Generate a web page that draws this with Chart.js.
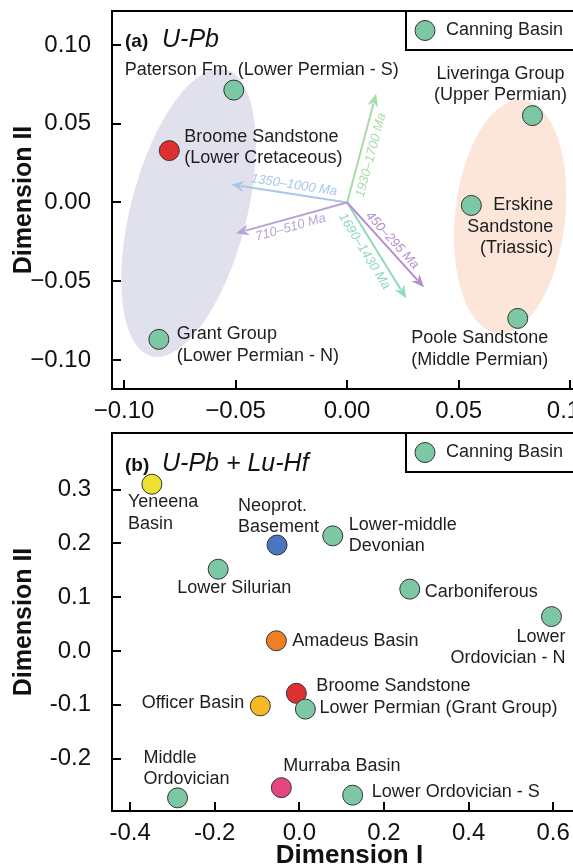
<!DOCTYPE html>
<html>
<head>
<meta charset="utf-8">
<script src="https://cdn.jsdelivr.net/npm/chart.js@4"></script>
<style>
  html, body { margin: 0; padding: 0; background: #fff; overflow: hidden; width: 573px; height: 867px; }
  .panel { position: absolute; left: 0; width: 620px; }
</style>
</head>
<body>
<div class="panel" style="top:0;height:430px"><canvas id="chartA"></canvas></div>
<div class="panel" style="top:420px;height:447px"><canvas id="chartB"></canvas></div>
<script>
const FONT = '"Liberation Sans", Arial, Helvetica, sans-serif';
const GREEN = '#7cc7a4';

// --- (a) U-Pb data ---
const UPB_DIM1 = [-0.0508, -0.0797, -0.0844, 0.0831, 0.0557, 0.0765];
const UPB_DIM2 = [0.0713, 0.0329, -0.0869, 0.0551, -0.0019, -0.0736];
const UPB_COLORS = [GREEN, '#df2f2f', GREEN, GREEN, GREEN, GREEN];
const UPB_LABELS = [
  ['Paterson Fm. (Lower Permian - S)'],
  ['Broome Sandstone', '(Lower Cretaceous)'],
  ['Grant Group', '(Lower Permian - N)'],
  ['Liveringa Group', '(Upper Permian)'],
  ['Erskine', 'Sandstone', '(Triassic)'],
  ['Poole Sandstone', '(Middle Permian)'],
];
const UPB_X_TICKS = [-0.10, -0.05, 0.00, 0.05, 0.10];
const UPB_Y_TICKS = [-0.10, -0.05, 0.00, 0.05, 0.10];

// age-component vectors (tips, from origin)
const ARROW_LABELS = ['1350–1000 Ma', '710–510 Ma', '1930–1700 Ma', '1690–1430 Ma', '450–295 Ma'];
const ARROW_DIM1 = [-0.0520, -0.0498, 0.0130, 0.0265, 0.0345];
const ARROW_DIM2 = [0.0114, -0.0196, 0.0690, -0.0608, -0.0538];
const ARROW_COLORS = ['#a8c7e9', '#b7a3d8', '#a7dca7', '#92d8bd', '#b28dcf'];

// grouping ellipses: centre and major-axis tip
const ELLIPSE_CX = [-0.0711, 0.0731];
const ELLIPSE_CY = [-0.0066, -0.0089];
const ELLIPSE_TIP_X = [-0.0545, 0.0788];
const ELLIPSE_TIP_Y = [0.0844, 0.0651];
const ELLIPSE_COLORS = ['#e1e1ee', '#fbe6d9'];

// --- (b) U-Pb + Lu-Hf data ---
const HF_DIM1 = [-0.3487, -0.0528, -0.192, 0.0789, 0.261, 0.596, -0.0544, -0.0923, -0.0071, 0.0142, -0.288, -0.0426, 0.126];
const HF_DIM2 = [0.310, 0.197, 0.152, 0.214, 0.115, 0.064, 0.019, -0.102, -0.0787, -0.108, -0.273, -0.254, -0.268];
const HF_COLORS = ['#ece22e', '#4a76bf', GREEN, GREEN, GREEN, GREEN, '#ef7f22', '#f6b824', '#df2f2f', GREEN, GREEN, '#e6467f', GREEN];
const HF_LABELS = [
  ['Yeneena', 'Basin'],
  ['Neoprot.', 'Basement'],
  ['Lower Silurian'],
  ['Lower-middle', 'Devonian'],
  ['Carboniferous'],
  ['Lower', 'Ordovician - N'],
  ['Amadeus Basin'],
  ['Officer Basin'],
  ['Broome Sandstone'],
  ['Lower Permian (Grant Group)'],
  ['Middle', 'Ordovician'],
  ['Murraba Basin'],
  ['Lower Ordovician - S'],
];
const HF_X_TICKS = [-0.4, -0.2, 0.0, 0.2, 0.4, 0.6];
const HF_Y_TICKS = [-0.2, -0.1, 0.0, 0.1, 0.2, 0.3];

// label placement relative to each marker (px)
const UPB_PLACE = [
  { dx: 28, dy: -20, align: 'center' },
  { dx: 15, dy: -14, align: 'left' },
  { dx: 18, dy: -5, align: 'left' },
  { dx: -32, dy: -42, align: 'center' },
  { dx: 82, dy: 0, align: 'right' },
  { dx: -38, dy: 20, align: 'center' },
];
const HF_PLACE = [
  { dx: -24, dy: 18, align: 'left' },
  { dx: -39, dy: -39, align: 'left' },
  { dx: 16, dy: 19, align: 'center' },
  { dx: 16, dy: -11, align: 'left' },
  { dx: 15, dy: 3, align: 'left' },
  { dx: 14, dy: 20, align: 'right' },
  { dx: 16, dy: 0, align: 'left' },
  { dx: -16, dy: -3, align: 'right' },
  { dx: 20, dy: -7, align: 'left' },
  { dx: 14, dy: -1, align: 'left' },
  { dx: -34, dy: -40, align: 'left' },
  { dx: 2, dy: -22, align: 'left' },
  { dx: 19, dy: -3, align: 'left' },
];
const ARROW_PLACE = [
  { t: 0.47, off: 9 }, { t: 0.53, off: -9 }, { t: 0.46, off: -11 },
  { t: 0.45, off: -11 }, { t: 0.51, off: 8 },
];

const decorPlugin = {
  id: 'decor',
  beforeDatasetsDraw(chart, args, opts) {
    const { ctx, scales: { x, y } } = chart;
    ctx.save();
    (opts.ellipses || []).forEach(e => {
      const cx = x.getPixelForValue(e.cx), cy = y.getPixelForValue(e.cy);
      const tx = x.getPixelForValue(e.tx), ty = y.getPixelForValue(e.ty);
      ctx.beginPath();
      ctx.ellipse(cx, cy, Math.hypot(tx - cx, ty - cy), e.halfWidth, Math.atan2(ty - cy, tx - cx), 0, Math.PI * 2);
      ctx.fillStyle = e.color;
      ctx.fill();
    });
    (opts.arrows || []).forEach(a => {
      const ox = x.getPixelForValue(0), oy = y.getPixelForValue(0);
      const tx = x.getPixelForValue(a.x), ty = y.getPixelForValue(a.y);
      const len = Math.hypot(tx - ox, ty - oy);
      const ux = (tx - ox) / len, uy = (ty - oy) / len;
      const head = 13, hw = 5.5;
      const bx = tx - ux * head, by = ty - uy * head;
      ctx.strokeStyle = a.color;
      ctx.fillStyle = a.color;
      ctx.lineWidth = 2;
      ctx.beginPath();
      ctx.moveTo(ox, oy);
      ctx.lineTo(bx + ux * 3, by + uy * 3);
      ctx.stroke();
      ctx.beginPath();
      ctx.moveTo(tx, ty);
      ctx.lineTo(bx - uy * hw, by + ux * hw);
      ctx.lineTo(bx + ux * 4, by + uy * 4);
      ctx.lineTo(bx + uy * hw, by - ux * hw);
      ctx.closePath();
      ctx.fill();
      // label along the vector
      let ang = Math.atan2(ty - oy, tx - ox);
      if (ang > Math.PI / 2) ang -= Math.PI;
      if (ang < -Math.PI / 2) ang += Math.PI;
      const px = ox + (tx - ox) * a.t + Math.sin(ang) * a.off;
      const py = oy + (ty - oy) * a.t - Math.cos(ang) * a.off;
      ctx.save();
      ctx.translate(px, py);
      ctx.rotate(ang);
      ctx.font = 'italic 13px ' + FONT;
      ctx.textAlign = 'center';
      ctx.textBaseline = 'middle';
      ctx.fillText(a.label, 0, 0);
      ctx.restore();
    });
    ctx.restore();
  },
  afterDatasetsDraw(chart, args, opts) {
    const { ctx, chartArea: ca, scales: { x, y } } = chart;
    const ds = chart.data.datasets[0];
    ctx.save();
    // point labels
    ctx.fillStyle = '#1e1e1e';
    ctx.font = '18px ' + FONT;
    ctx.textBaseline = 'middle';
    opts.labels.forEach((lines, i) => {
      const p = opts.place[i];
      const px = x.getPixelForValue(ds.data[i].x) + p.dx;
      const py = y.getPixelForValue(ds.data[i].y) + p.dy;
      ctx.textAlign = p.align;
      lines.forEach((ln, k) => ctx.fillText(ln, px, py + k * 21.5));
    });
    // frame
    ctx.strokeStyle = '#000';
    ctx.lineWidth = 2;
    ctx.strokeRect(ca.left, ca.top, ca.right - ca.left, ca.bottom - ca.top);
    // inward ticks
    ctx.beginPath();
    x.ticks.forEach(t => {
      const px = Math.round(x.getPixelForValue(t.value));
      ctx.moveTo(px, ca.bottom);
      ctx.lineTo(px, ca.bottom - 9);
    });
    y.ticks.forEach(t => {
      const py = Math.round(y.getPixelForValue(t.value));
      ctx.moveTo(ca.left, py);
      ctx.lineTo(ca.left + 9, py);
    });
    ctx.stroke();
    // legend box
    const lx = 406, ly = ca.top, lh = 39;
    ctx.fillStyle = '#fff';
    ctx.fillRect(lx, ly, 260, lh);
    ctx.strokeRect(lx, ly, 260, lh);
    ctx.beginPath();
    ctx.arc(lx + 19, ly + lh / 2, 10, 0, Math.PI * 2);
    ctx.fillStyle = GREEN;
    ctx.fill();
    ctx.lineWidth = 1;
    ctx.strokeStyle = '#333';
    ctx.stroke();
    ctx.fillStyle = '#1e1e1e';
    ctx.font = '18px ' + FONT;
    ctx.textAlign = 'left';
    ctx.fillText('Canning Basin', lx + 40, ly + lh / 2);
    // panel title
    ctx.textBaseline = 'alphabetic';
    ctx.fillStyle = '#111';
    ctx.font = 'bold 19px ' + FONT;
    ctx.fillText(opts.tag, 125, ca.top + opts.titleBase);
    ctx.font = 'italic 25px ' + FONT;
    ctx.fillText(opts.title, 162, ca.top + opts.titleBase);
    ctx.restore();
  },
};

function pointsOf(xs, ys) {
  return xs.map((v, i) => ({ x: v, y: ys[i] }));
}

function fmt(digits, minus) {
  return v => {
    if (Math.abs(v) < 1e-9) v = 0;
    const s = v.toFixed(digits);
    return minus ? s.replace('-', '\u2212') : s;
  };
}

function makePanel(canvasId, cfg) {
  return new Chart(document.getElementById(canvasId), {
    type: 'scatter',
    data: {
      datasets: [{
        data: cfg.points,
        backgroundColor: cfg.colors,
        borderColor: '#333',
        borderWidth: 1,
        pointRadius: 10,
        pointHoverRadius: 10,
      }],
    },
    options: {
      responsive: true,
      maintainAspectRatio: false,
      animation: false,
      layout: { padding: { top: cfg.padTop, right: cfg.padRight, left: 0, bottom: 0 } },
      plugins: {
        legend: { display: false },
        tooltip: { enabled: false },
        decor: cfg.decor,
      },
      scales: {
        x: {
          type: 'linear',
          min: cfg.xMin, max: cfg.xMax,
          afterBuildTicks: s => { s.ticks = cfg.xTicks.map(v => ({ value: v })); },
          afterFit: s => { s.height = cfg.xHeight; s.paddingLeft = 0; s.paddingRight = 0; },
          grid: { display: false },
          border: { display: false },
          ticks: { callback: cfg.fmt, padding: 0, color: '#111', font: { family: FONT, size: 24 }, maxRotation: 0 },
          title: cfg.xTitle
            ? { display: true, text: 'Dimension I', color: '#111', padding: { top: 0, bottom: 1 }, font: { family: FONT, size: 26, weight: 'bold', lineHeight: 0.77 } }
            : { display: false },
        },
        y: {
          type: 'linear',
          min: cfg.yMin, max: cfg.yMax,
          afterBuildTicks: s => { s.ticks = cfg.yTicks.map(v => ({ value: v })); },
          afterFit: s => { s.width = 112; s.paddingTop = 0; s.paddingBottom = 0; },
          grid: { display: false },
          border: { display: false },
          ticks: { callback: cfg.fmt, padding: 13, color: '#111', font: { family: FONT, size: 24 } },
          title: { display: true, text: 'Dimension II', color: '#111', padding: { top: 9, bottom: 0 }, font: { family: FONT, size: 25, weight: 'bold' } },
        },
      },
    },
    plugins: [decorPlugin],
  });
}

makePanel('chartA', {
  points: pointsOf(UPB_DIM1, UPB_DIM2),
  colors: UPB_COLORS,
  xMin: -0.1054, xMax: 0.108, yMin: -0.1184, yMax: 0.1215,
  xTicks: UPB_X_TICKS, yTicks: UPB_Y_TICKS,
  padTop: 10, padRight: 32, xHeight: 41, xTitle: false,
  fmt: fmt(2, true),
  decor: {
    labels: UPB_LABELS, place: UPB_PLACE, tag: '(a)', title: 'U-Pb', titleBase: 36,
    ellipses: ELLIPSE_CX.map((cx, i) => ({
      cx, cy: ELLIPSE_CY[i], tx: ELLIPSE_TIP_X[i], ty: ELLIPSE_TIP_Y[i],
      halfWidth: [58, 55][i], color: ELLIPSE_COLORS[i],
    })),
    arrows: ARROW_DIM1.map((v, i) => ({
      x: v, y: ARROW_DIM2[i], label: ARROW_LABELS[i], color: ARROW_COLORS[i],
      t: ARROW_PLACE[i].t, off: ARROW_PLACE[i].off,
    })),
  },
});

makePanel('chartB', {
  points: pointsOf(HF_DIM1, HF_DIM2),
  colors: HF_COLORS,
  xMin: -0.443, xMax: 0.68, yMin: -0.2974, yMax: 0.4052,
  xTicks: HF_X_TICKS, yTicks: HF_Y_TICKS,
  padTop: 13, padRight: 33, xHeight: 56, xTitle: true,
  fmt: fmt(1, false),
  decor: { labels: HF_LABELS, place: HF_PLACE, tag: '(b)', title: 'U-Pb + Lu-Hf', titleBase: 38 },
});
</script>
</body>
</html>
